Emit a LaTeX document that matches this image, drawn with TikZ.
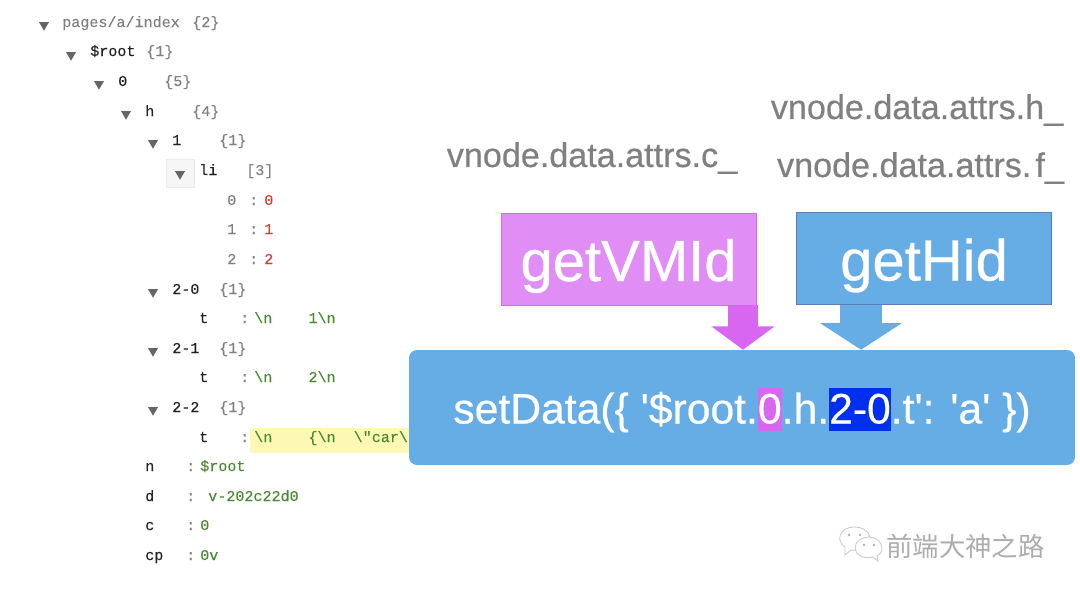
\documentclass[tikz,border=0pt]{standalone}
\usepackage{fontspec}
\setmainfont{Liberation Sans}
\setmonofont[FakeBold=0.2]{Liberation Mono}
\newfontfamily\medfont[FakeBold=0.5]{Liberation Sans}
\newfontfamily\cjkfont{Noto Sans CJK SC}
\usetikzlibrary{arrows.meta,shapes.geometric}

\definecolor{boxblue}{HTML}{66ADE6}
\definecolor{boxedge}{HTML}{5A7DB5}
\definecolor{vmpink}{HTML}{E08DF5}
\definecolor{vmarrow}{HTML}{D966F0}
\definecolor{hidblue}{HTML}{0030EE}
\definecolor{keyblack}{HTML}{222222}
\definecolor{metagray}{HTML}{808080}
\definecolor{numred}{HTML}{D0402F}
\definecolor{strgreen}{HTML}{4A8A35}
\definecolor{markyellow}{HTML}{FDF9B5}

\newcommand{\bsn}{\textbackslash n}
\newcommand{\hlbox}[2]{{\setlength{\fboxsep}{0pt}\colorbox{#1}{\rule[-5.6pt]{0pt}{32pt}#2}}}

\tikzset{
  treeText/.style={anchor=base west,inner sep=0pt,font=\ttfamily\fontsize{11.3}{13}\selectfont},
  treeKey/.style={treeText,text=keyblack},
  treeMeta/.style={treeText,text=metagray},
  treeNum/.style={treeText,text=numred},
  treeStr/.style={treeText,text=strgreen},
  fold/.style={regular polygon,regular polygon sides=3,shape border rotate=180,
    fill=black!60,inner sep=0pt,minimum size=8.6pt},
  callName/.style={anchor=center,inner sep=0pt,text=metagray,font=\medfont\fontsize{25.6}{28}\selectfont},
  funcBox/.style={inner sep=0pt,minimum width=191.25pt,minimum height=69pt,text=white,
    text height=42pt,text depth=9pt,font=\medfont\fontsize{43.5}{46}\selectfont},
  chatBubble/.style={draw=black!22,fill=white,line width=0.6pt},
}

\begin{document}
\begin{tikzpicture}[x=0.75pt,y=-0.75pt]
  \useasboundingbox (0,0) rectangle (1080,594);

  % folded row marks
  \node[draw=black!8,fill=black!4,line width=0.75pt,inner sep=0pt,minimum width=21pt,minimum height=21pt]
    (libox) at (180.5,173) {};
  \fill[markyellow,rounded corners=1.5pt] (250,428) rectangle (420,453);
  \foreach \x/\y in {44/25,71/55,99/84,126/114,153/143,180/174,153/292,153/351,153/410} {
    \node[fold] (fold\y) at (\x,\y) {};
  }

  % keys and sizes of the tree
  \foreach \x/\y/\str/\stl in {
      62/27/{pages/a/index}/treeMeta,
      192/27/\{2\}/treeMeta,
      90/56/\$root/treeKey,
      146/56/\{1\}/treeMeta,
      118/86/0/treeKey,
      164/86/\{5\}/treeMeta,
      145/116/h/treeKey,
      192/116/\{4\}/treeMeta,
      172/145/1/treeKey,
      219/145/\{1\}/treeMeta,
      199/175/li/treeKey,
      246/175/[3]/treeMeta,
      227/205/0/treeMeta,
      249/205/:/treeMeta,
      264/205/0/treeNum,
      227/234/1/treeMeta,
      249/234/:/treeMeta,
      264/234/1/treeNum,
      227/264/2/treeMeta,
      249/264/:/treeMeta,
      264/264/2/treeNum,
      172/294/2-0/treeKey,
      219/294/\{1\}/treeMeta,
      199/323/t/treeKey,
      240/323/:/treeMeta,
      254/323/\bsn\ \ \ \ 1\bsn/treeStr,
      172/353/2-1/treeKey,
      219/353/\{1\}/treeMeta,
      199/382/t/treeKey,
      240/382/:/treeMeta,
      254/382/\bsn\ \ \ \ 2\bsn/treeStr,
      172/412/2-2/treeKey,
      219/412/\{1\}/treeMeta,
      199/442/t/treeKey,
      240/442/:/treeMeta,
      254/442/\bsn\ \ \ \ \{\bsn\ \ \textbackslash"car\textbackslash/treeStr,
      145/471/n/treeKey,
      186/471/:/treeMeta,
      200/471/\$root/treeStr,
      145/501/d/treeKey,
      186/501/:/treeMeta,
      208/501/v-202c22d0/treeStr,
      145/530/c/treeKey,
      186/530/:/treeMeta,
      200/530/0/treeStr,
      145/560/cp/treeKey,
      186/560/:/treeMeta,
      200/560/0v/treeStr%
    } {
      \node[\stl] (t\x-\y) at (\x,\y) {\str};
    }

  % property paths
  \node[callName] (attrsh) at (917,110) {vnode.data.attrs.h\_};
  \node[callName] (attrsc) at (592,158) {vnode.data.attrs.c\_};
  \node[callName] (attrsf) at (920.5,168) {vnode.data.attrs.\hspace{0.12em}f\_};

  % functions
  \node[funcBox,fill=vmpink,draw=vmarrow,line width=0.5pt] (getvmid) at (628.5,259) {getVMId};
  \node[funcBox,fill=boxblue,draw=boxedge,line width=0.9pt] (gethid) at (924,258.5) {getHid};
  \node[fill=boxblue,rounded corners=6pt,inner sep=0pt,minimum width=499.5pt,minimum height=86.25pt,
    text=white,text height=29.6pt,text depth=5.6pt,font=\medfont\fontsize{32}{34}\selectfont] (setdata) at (742,407.5)
    {setData(\{ \textquotesingle\$root.\hlbox{vmarrow}{0}.h.\hlbox{hidblue}{2-0}.t\textquotesingle: \textquotesingle a\textquotesingle\ \})};

  \draw[draw=vmarrow,line width=22.5pt,-{Triangle[length=17.5pt,width=46.5pt,fill=vmarrow]}]
    (743,0 |- getvmid.south) -- (743,0 |- setdata.north);
  \draw[draw=boxblue,line width=31.5pt,-{Triangle[length=20pt,width=60.5pt,fill=boxblue]}]
    (861,0 |- gethid.south) -- (861,0 |- setdata.north);

  % watermark
  \draw[chatBubble] (845,555) -- (845,547) .. controls (836,542) and (838,527) .. (855,527)
    .. controls (867,527) and (873,537) .. (869,544) .. controls (865,550) and (856,551) .. (851,550) -- cycle;
  \draw[chatBubble] (878,561) -- (873,557) .. controls (862,560) and (855,553) .. (855,548)
    .. controls (855,541) and (862,537) .. (869,537) .. controls (876,537) and (882,542) .. (882,548)
    .. controls (882,552) and (880,555) .. (877,556) -- cycle;
  \foreach \x/\y in {849/535,860/535,864/545,874/545} {
    \fill[black!30] (\x,\y) circle (1pt);
  }
  \node[inner sep=0pt,text=black!32,font=\cjkfont\fontsize{19.8}{22}\selectfont] (mark) at (965.5,546) {前端大神之路};
\end{tikzpicture}
\end{document}
